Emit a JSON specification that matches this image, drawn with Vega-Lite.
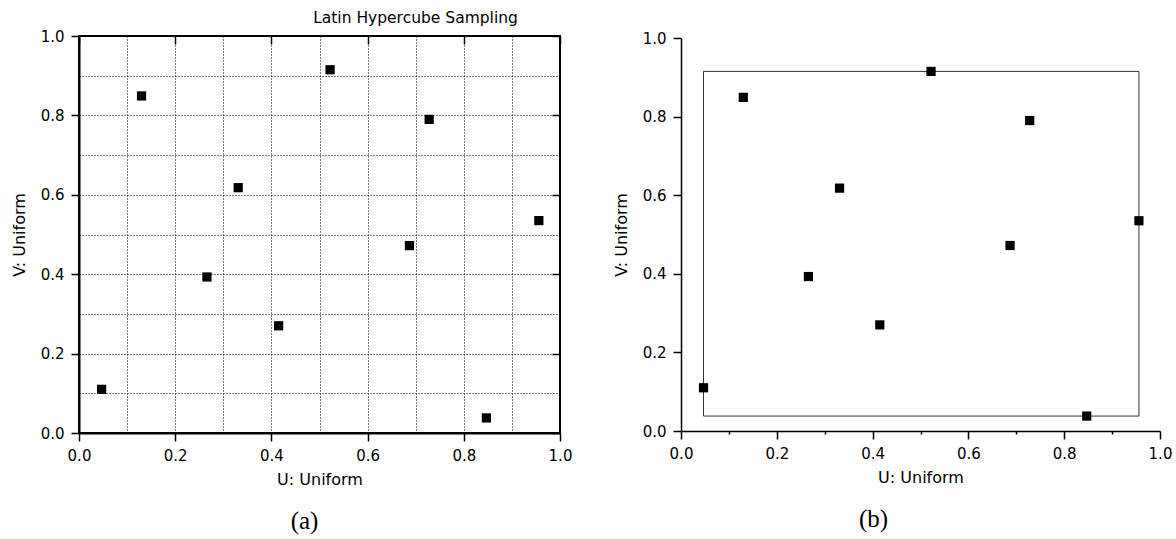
{
  "$schema": "https://vega.github.io/schema/vega-lite/v6.json",
  "background": "white",
  "padding": {"left": 10, "top": 10, "right": 5, "bottom": 5},
  "title": {"text": "Latin Hypercube Sampling", "anchor": "start", "frame": "bounds", "dx": 303, "offset": 2, "font": "DejaVu Sans", "fontSize": 15.5, "fontWeight": "normal", "color": "black"},
  "data": {"values": [
    {"u": 0.130, "v": 0.849},
    {"u": 0.522, "v": 0.915},
    {"u": 0.728, "v": 0.790},
    {"u": 0.331, "v": 0.618},
    {"u": 0.956, "v": 0.535},
    {"u": 0.687, "v": 0.472},
    {"u": 0.266, "v": 0.393},
    {"u": 0.415, "v": 0.270},
    {"u": 0.047, "v": 0.110},
    {"u": 0.847, "v": 0.038}
  ]},
  "bounds": "flush",
  "spacing": 121,
  "center": true,
  "hconcat": [
    {
      "width": 481,
      "height": 397,
      "view": {"stroke": "black", "strokeWidth": 2},
      "title": {"text": "(a)", "orient": "bottom", "anchor": "middle", "dx": -15, "offset": 22, "font": "Liberation Serif", "fontSize": 25, "fontWeight": "normal", "color": "black"},
      "layer": [
        {
          "mark": {"type": "point", "shape": "square", "filled": true, "color": "black", "size": 85, "opacity": 1},
          "encoding": {
            "x": {"field": "u", "type": "quantitative", "scale": {"domain": [0, 1], "nice": false},
              "axis": {"orient": "bottom", "title": "U: Uniform", "values": [0, 0.1, 0.2, 0.3, 0.4, 0.5, 0.6, 0.7, 0.8, 0.9, 1.0],
                "labelExpr": "round(datum.value*10)%2==0 ? format(datum.value,'.1f') : ''",
                "grid": true, "gridDash": [1, 2], "gridColor": "black", "gridWidth": 1, "gridOpacity": 1,
                "tickSize": {"condition": {"test": "round(datum.value*10)%2==0", "value": 8}, "value": 0},
                "tickWidth": 1.5, "domainWidth": 2, "labelPadding": 7, "titlePadding": 8, "labelFlush": false, "labelOverlap": false}},
            "y": {"field": "v", "type": "quantitative", "scale": {"domain": [0, 1], "nice": false},
              "axis": {"orient": "left", "title": "V: Uniform", "values": [0, 0.1, 0.2, 0.3, 0.4, 0.5, 0.6, 0.7, 0.8, 0.9, 1.0],
                "labelExpr": "round(datum.value*10)%2==0 ? format(datum.value,'.1f') : ''",
                "grid": true, "gridDash": [1, 2], "gridColor": "black", "gridWidth": 1, "gridOpacity": 1,
                "tickSize": {"condition": {"test": "round(datum.value*10)%2==0", "value": 8}, "value": 0},
                "tickWidth": 1.5, "domainWidth": 2, "labelPadding": 7, "titlePadding": 13, "labelFlush": false, "labelOverlap": false}}
          }
        },
        {
          "mark": {"type": "point", "opacity": 0},
          "encoding": {
            "x": {"field": "u", "type": "quantitative", "scale": {"domain": [0, 1], "nice": false},
              "axis": {"orient": "top", "title": null, "values": [0, 0.2, 0.4, 0.6, 0.8, 1.0], "labels": false, "domain": false, "grid": false, "tickSize": -8, "tickWidth": 1.5}},
            "y": {"field": "v", "type": "quantitative", "scale": {"domain": [0, 1], "nice": false},
              "axis": {"orient": "right", "title": null, "values": [0, 0.2, 0.4, 0.6, 0.8, 1.0], "labels": false, "domain": false, "grid": false, "tickSize": -8, "tickWidth": 1.5}}
          }
        }
      ],
      "resolve": {"axis": {"x": "independent", "y": "independent"}}
    },
    {
      "width": 479,
      "height": 393,
      "view": {"stroke": null},
      "title": {"text": "(b)", "orient": "bottom", "anchor": "middle", "dx": -47, "offset": 22, "font": "Liberation Serif", "fontSize": 25, "fontWeight": "normal", "color": "black"},
      "layer": [
        {
          "transform": [{"aggregate": [
            {"op": "min", "field": "u", "as": "u"},
            {"op": "max", "field": "u", "as": "u2"},
            {"op": "min", "field": "v", "as": "v"},
            {"op": "max", "field": "v", "as": "v2"}
          ]}],
          "mark": {"type": "rect", "filled": false, "stroke": "#333333", "strokeWidth": 1},
          "encoding": {
            "x": {"field": "u", "type": "quantitative", "scale": {"domain": [0, 1], "nice": false},
              "axis": {"orient": "bottom", "title": "U: Uniform", "values": [0, 0.1, 0.2, 0.3, 0.4, 0.5, 0.6, 0.7, 0.8, 0.9, 1.0],
                "labelExpr": "round(datum.value*10)%2==0 ? format(datum.value,'.1f') : ''",
                "grid": false,
                "tickSize": {"condition": {"test": "round(datum.value*10)%2==0", "value": 8}, "value": 3},
                "tickWidth": 1.5, "domainWidth": 1.5, "labelPadding": 7, "titlePadding": 8, "labelFlush": false, "labelOverlap": false}},
            "x2": {"field": "u2"},
            "y": {"field": "v", "type": "quantitative", "scale": {"domain": [0, 1], "nice": false},
              "axis": {"orient": "left", "title": "V: Uniform", "values": [0, 0.1, 0.2, 0.3, 0.4, 0.5, 0.6, 0.7, 0.8, 0.9, 1.0],
                "labelExpr": "round(datum.value*10)%2==0 ? format(datum.value,'.1f') : ''",
                "grid": false,
                "tickSize": {"condition": {"test": "round(datum.value*10)%2==0", "value": 8}, "value": 3},
                "tickWidth": 1.5, "domainWidth": 1.5, "labelPadding": 7, "titlePadding": 13, "labelFlush": false, "labelOverlap": false}},
            "y2": {"field": "v2"}
          }
        },
        {
          "mark": {"type": "point", "shape": "square", "filled": true, "color": "black", "size": 85, "opacity": 1},
          "encoding": {
            "x": {"field": "u", "type": "quantitative", "scale": {"domain": [0, 1], "nice": false}, "title": "U: Uniform"},
            "y": {"field": "v", "type": "quantitative", "scale": {"domain": [0, 1], "nice": false}, "title": "V: Uniform"}
          }
        }
      ]
    }
  ],
  "config": {
    "axis": {"labelFont": "DejaVu Sans", "labelFontSize": 15, "titleFont": "DejaVu Sans", "titleFontSize": 16, "titleFontWeight": "normal", "labelColor": "black", "titleColor": "black", "domainColor": "black", "tickColor": "black"}
  }
}
